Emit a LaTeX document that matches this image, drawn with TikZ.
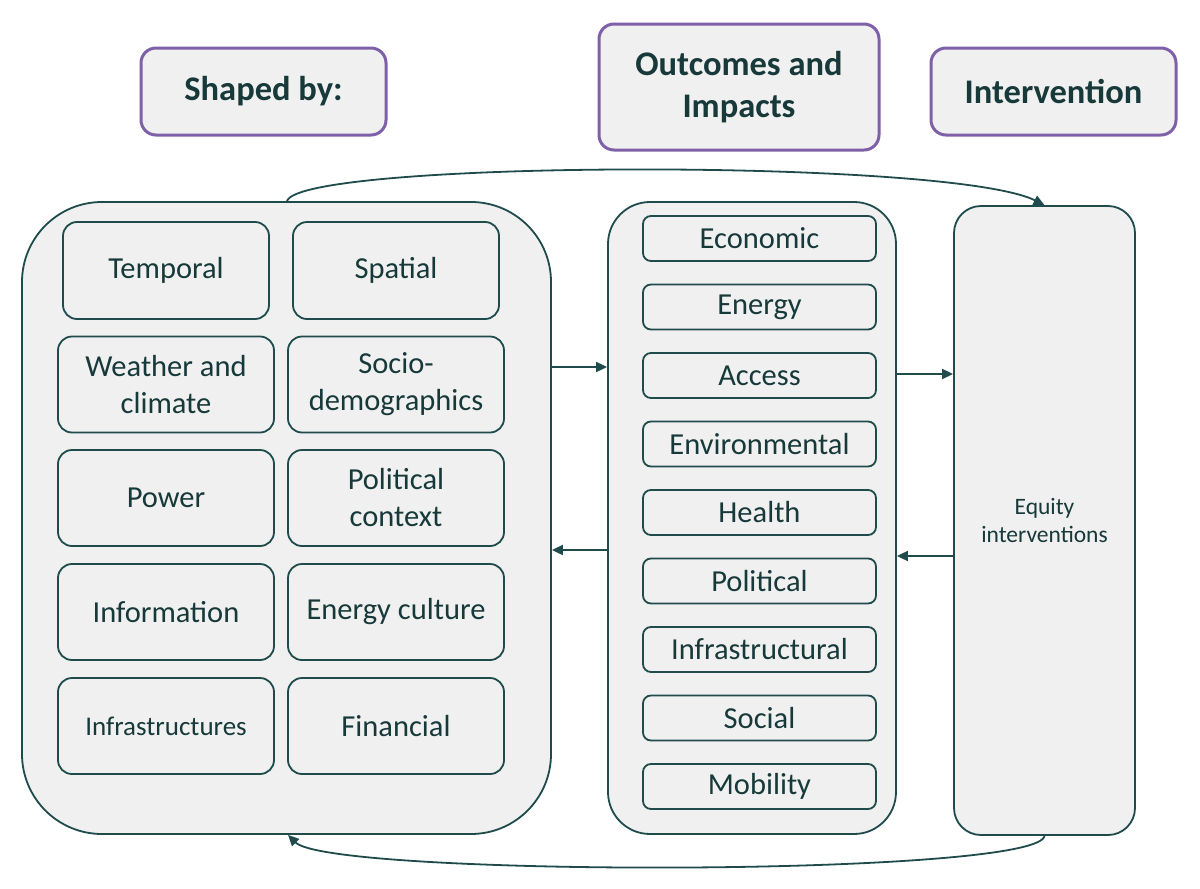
\documentclass[tikz,border=0pt]{standalone}
\usepackage{fontspec}
\setmainfont{Carlito}
\usetikzlibrary{arrows.meta}
\definecolor{edge}{HTML}{1F4B4C}
\definecolor{txt}{HTML}{17393A}
\definecolor{purp}{HTML}{7E60A8}
\definecolor{boxfill}{HTML}{F0F0F0}
\tikzset{
  title/.style={draw=purp, line width=3pt, fill=boxfill, rounded corners=15pt, inner sep=0pt,
    text=txt, font=\bfseries\fontsize{34.5}{42}\selectfont, align=center},
  outer/.style={draw=edge, line width=1.8pt, fill=boxfill, inner sep=0pt},
  lbox/.style={draw=edge, line width=1.8pt, fill=boxfill, rounded corners=14pt, inner sep=0pt,
    text=txt, font=\fontsize{30.5}{37}\selectfont, align=center, minimum width=216pt, minimum height=96pt},
  mbox/.style={draw=edge, line width=1.8pt, fill=boxfill, rounded corners=8pt, inner sep=0pt,
    text=txt, font=\fontsize{30.5}{34}\selectfont, minimum width=233pt, minimum height=45pt},
  arr/.style={draw=edge, line width=1.8pt, -{Triangle[length=11pt,width=10pt]}},
}
\begin{document}
\begin{tikzpicture}[x=1pt,y=-1pt]
\useasboundingbox (0,0) rectangle (1200,889);
% titles
\node[title, minimum width=245pt, minimum height=87pt] (t1) at (263.5,91.5) {Shaped by:};
\node[title, minimum width=280pt, minimum height=126pt] (t2) at (739,87) {Outcomes and\\Impacts};
\node[title, minimum width=245pt, minimum height=87pt] (t3) at (1053.5,91.5) {Intervention};
% outer boxes
\node[outer, rounded corners=80pt, minimum width=529pt, minimum height=632pt] (big) at (286.5,518) {};
\node[outer, rounded corners=42pt, minimum width=288pt, minimum height=632pt] (mid) at (752,518) {};
\node[outer, rounded corners=27pt, minimum width=181pt, minimum height=629pt, text=txt,
  font=\fontsize{23.5}{28}\selectfont, align=center] (right) at (1044.5,520.5) {Equity\\interventions};
% left inner boxes
\node[lbox, minimum width=206pt, minimum height=97pt] (temporal) at (166,270.5) {Temporal};
\node[lbox, minimum width=206pt, minimum height=97pt] (spatial) at (396,270.5) {Spatial};
\node[lbox] (weather) at (166,384.5) {Weather and\\climate};
\node[lbox] (socio) at (396,384.5) {Socio-\\demographics};
\node[lbox] (power) at (166,498) {Power};
\node[lbox] (political) at (396,498) {Political\\context};
\node[lbox] (information) at (166,612) {Information};
\node[lbox] (culture) at (396,612) {Energy culture};
\node[lbox, font=\fontsize{27}{30}\selectfont] (infra) at (166,726) {Infrastructures};
\node[lbox] (financial) at (396,726) {Financial};
% middle inner boxes
\node[mbox] (m1) at (759.5,238.5) {Economic};
\node[mbox] (m2) at (759.5,307) {Energy};
\node[mbox] (m3) at (759.5,375.5) {Access};
\node[mbox] (m4) at (759.5,444) {Environmental};
\node[mbox] (m5) at (759.5,512.5) {Health};
\node[mbox] (m6) at (759.5,581) {Political};
\node[mbox] (m7) at (759.5,649.5) {Infrastructural};
\node[mbox] (m8) at (759.5,718) {Social};
\node[mbox] (m9) at (759.5,786.5) {Mobility};
% straight arrows
\draw[arr] (big.east |- 0,367) -- (mid.west |- 0,367);
\draw[arr] (mid.west |- 0,550) -- (big.east |- 0,550);
\draw[arr] (mid.east |- 0,374) -- (right.west |- 0,374);
\draw[arr] (right.west |- 0,556) -- (mid.east |- 0,556);
% curved arrows
\draw[arr] (big.north -| 287,0) .. controls (300,160) and (950,158) .. (right.north);
\draw[arr] (right.south) .. controls (1038,877) and (330,877) .. (big.south -| 288,0);
\end{tikzpicture}
\end{document}
